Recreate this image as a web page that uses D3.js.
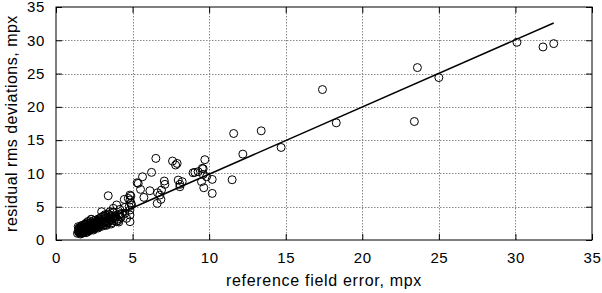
<!DOCTYPE html>
<html>
<head>
<meta charset="utf-8">
<script src="https://cdn.jsdelivr.net/npm/d3@7"></script>
<style>
  body { margin: 0; background: #fff; }
  text { font-family: "Liberation Sans", Arial, sans-serif; fill: #000; }
</style>
</head>
<body>
<script>
// scatter points: reference field error (x) vs residual rms deviation (y), mpx
const refError = [
  30.1, 31.8, 32.5, 23.6, 25.0, 17.4, 18.3, 23.4, 11.6, 13.4, 12.2, 14.7, 11.5,
  9.72, 9.61, 10.2, 9.65, 10.2, 6.52, 7.61, 7.81, 7.91,
  6.24, 5.65, 5.3, 5.52, 6.13, 5.74, 7.07, 7.11, 6.89, 6.63, 6.78, 6.61, 6.85,
  7.98, 8.24, 8.09, 8.09, 9.07, 9.28, 9.55, 9.61, 9.83, 9.5, 8.95,
  3.41, 4.89, 4.83, 4.78, 3.96, 3.74, 4.17, 2.98, 3.52, 4.5, 4.83, 4.61, 4.83, 5.37,
  4.46, 4.5, 4.9, 4.83, 4.72, 4.93, 4.83,
  1.4, 1.45, 1.5, 1.5, 1.55, 1.6, 1.6, 1.65, 1.7, 1.7, 1.75, 1.8, 1.8, 1.85, 1.9, 1.9,
  1.95, 2.0, 2.0, 2.05, 2.1, 2.1, 2.15, 2.2, 2.2, 2.25, 2.3, 2.3, 2.35, 2.4, 2.4, 2.45,
  2.5, 2.5, 2.55, 2.6, 2.6, 2.65, 2.7, 2.75, 2.8, 2.8, 2.85, 2.9, 2.95, 3.0, 3.0, 3.05,
  3.1, 3.15, 3.2, 3.25, 3.3, 3.35, 3.4, 3.5, 3.5, 3.6, 3.7, 3.8, 3.9, 4.0, 4.1, 4.2, 4.3,
  1.5, 1.6, 1.7, 1.75, 1.85, 1.95, 2.05, 2.15, 2.25, 2.35, 2.45, 2.55, 2.65, 2.75, 2.9,
  3.1, 3.4, 3.6, 1.45, 1.55, 1.65, 2.0, 2.3, 2.6, 2.9, 3.2, 3.45, 3.75, 4.05, 4.25,
  1.5, 1.55, 1.6, 1.7, 1.8, 1.85, 1.9, 2.0, 2.05, 2.1, 2.2, 2.25, 2.3, 2.4, 2.45, 2.5,
  2.6, 2.7, 2.75, 2.85, 2.95, 3.05, 3.15, 3.25, 3.3, 3.45, 3.55, 3.65, 3.7, 3.85, 3.95,
  4.1, 1.6, 1.75, 1.9, 2.1, 2.3, 2.55, 2.8, 3.0, 3.3, 3.55, 3.8, 4.15
];
const residual = [
  29.7, 29.0, 29.5, 25.9, 24.4, 22.6, 17.6, 17.8, 16.0, 16.4, 12.9, 13.9, 9.05,
  12.06, 10.7, 9.1, 7.85, 7.0, 12.26, 11.86, 11.26, 11.5,
  10.16, 9.5, 8.6, 7.6, 7.4, 6.4, 8.86, 8.36, 7.5, 7.1, 6.75, 5.5, 6.1,
  9.0, 8.76, 8.36, 8.0, 10.16, 10.26, 10.76, 9.86, 9.5, 8.76, 10.1,
  6.65, 6.6, 6.0, 5.0, 5.26, 4.76, 4.6, 4.25, 4.25, 4.0, 3.75, 3.25, 2.75, 8.5,
  6.1, 4.9, 5.5, 6.75, 6.25, 5.26, 4.5,
  1.0, 1.3, 1.6, 1.1, 1.9, 1.4, 0.9, 2.1, 1.2, 1.7, 1.5, 2.0, 1.1, 2.3, 1.6, 1.3,
  1.9, 2.2, 1.5, 1.2, 2.5, 1.8, 2.0, 1.4, 2.3, 1.7, 2.7, 2.0, 1.6, 2.4, 1.9, 2.9,
  2.1, 1.7, 2.6, 2.3, 3.0, 1.9, 2.5, 2.2, 2.8, 3.2, 2.0, 2.6, 3.4, 2.4, 2.9, 2.1,
  3.1, 2.7, 3.5, 2.3, 2.9, 3.3, 2.6, 3.0, 3.8, 2.4, 3.3, 2.9, 3.6, 3.1, 2.7, 3.5, 4.0,
  1.3, 1.7, 1.0, 1.9, 1.4, 1.1, 1.8, 1.5, 2.5, 2.2, 1.5, 2.0, 2.7, 1.8, 2.3,
  2.5, 3.9, 3.6, 2.0, 1.2, 1.5, 2.6, 3.1, 2.5, 3.0, 3.8, 3.2, 4.1, 2.9, 3.4,
  1.8, 1.45, 1.15, 2.2, 1.7, 1.25, 2.4, 1.35, 2.1, 2.8, 1.55, 2.05, 3.1, 2.5, 1.75, 2.35,
  1.85, 2.9, 2.4, 3.2, 2.75, 3.55, 2.3, 3.7, 2.55, 2.85, 3.4, 2.6, 4.2, 3.45, 2.75,
  3.7, 1.05, 1.35, 1.7, 1.6, 1.85, 1.8, 2.2, 2.65, 2.2, 2.9, 3.2, 3.9
];

// fitted line end points
const fitX = [1.4, 32.5];
const fitY = [1.2, 32.6];

const xTicks = [0, 5, 10, 15, 20, 25, 30, 35];
const yTicks = [0, 5, 10, 15, 20, 25, 30, 35];

const width = 602, height = 293;
const margin = {left: 56, right: 10, top: 7, bottom: 53};

const x = d3.scaleLinear().domain([0, 35]).range([margin.left, width - margin.right]);
const y = d3.scaleLinear().domain([0, 35]).range([height - margin.bottom, margin.top]);

const svg = d3.select("body").append("svg")
  .attr("width", width)
  .attr("height", height);

const x0 = x(0), x1 = x(35), y0 = y(0), y1 = y(35);

// dotted grid
svg.append("g").selectAll("line")
  .data(xTicks.slice(1, -1))
  .join("line")
  .attr("x1", d => Math.round(x(d)) + 0.5).attr("x2", d => Math.round(x(d)) + 0.5)
  .attr("y1", y1).attr("y2", y0)
  .attr("stroke", "#888").attr("stroke-dasharray", "1.5,1.5");

svg.append("g").selectAll("line")
  .data(yTicks.slice(1, -1))
  .join("line")
  .attr("y1", d => Math.round(y(d)) + 0.5).attr("y2", d => Math.round(y(d)) + 0.5)
  .attr("x1", x0).attr("x2", x1)
  .attr("stroke", "#888").attr("stroke-dasharray", "1.5,1.5");

// axes with inward ticks, mirrored on top and right
const tick = 6;
svg.append("g")
  .attr("transform", `translate(0,${y0})`)
  .call(d3.axisBottom(x).tickValues(xTicks).tickSizeInner(-tick).tickSizeOuter(0).tickPadding(12))
  .call(g => g.select(".domain").remove());
svg.append("g")
  .attr("transform", `translate(0,${y1})`)
  .call(d3.axisTop(x).tickValues(xTicks).tickSizeInner(-tick).tickSizeOuter(0).tickFormat(""))
  .call(g => g.select(".domain").remove());
svg.append("g")
  .attr("transform", `translate(${x0},0)`)
  .call(d3.axisLeft(y).tickValues(yTicks).tickSizeInner(-tick).tickSizeOuter(0).tickPadding(11))
  .call(g => g.select(".domain").remove());
svg.append("g")
  .attr("transform", `translate(${x1},0)`)
  .call(d3.axisRight(y).tickValues(yTicks).tickSizeInner(-tick).tickSizeOuter(0).tickFormat(""))
  .call(g => g.select(".domain").remove());

svg.selectAll(".tick line").attr("stroke", "#000");
svg.selectAll(".tick text")
  .attr("font-size", 15)
  .attr("letter-spacing", 0.6)
  .attr("font-family", "Liberation Sans, Arial, sans-serif");

// frame
svg.append("rect")
  .attr("x", x0).attr("y", y1)
  .attr("width", x1 - x0).attr("height", y0 - y1)
  .attr("fill", "none").attr("stroke", "#000");

// points
svg.append("g").selectAll("circle")
  .data(d3.range(refError.length))
  .join("circle")
  .attr("cx", i => x(refError[i]))
  .attr("cy", i => y(residual[i]))
  .attr("r", 4)
  .attr("fill", "none")
  .attr("stroke", "#000")
  .attr("stroke-width", 1);

// fit line
svg.append("path")
  .datum(d3.zip(fitX, fitY))
  .attr("d", d3.line().x(d => x(d[0])).y(d => y(d[1])))
  .attr("fill", "none")
  .attr("stroke", "#000")
  .attr("stroke-width", 1.5);

// axis titles
svg.append("text")
  .attr("x", (x0 + x1) / 2)
  .attr("y", 286)
  .attr("text-anchor", "middle")
  .attr("font-size", 16)
  .attr("letter-spacing", 0.7)
  .text("reference field error, mpx");

svg.append("text")
  .attr("transform", `translate(17,${(y0 + y1) / 2}) rotate(-90)`)
  .attr("text-anchor", "middle")
  .attr("font-size", 16)
  .attr("letter-spacing", 0.5)
  .text("residual rms deviations, mpx");
</script>
</body>
</html>
